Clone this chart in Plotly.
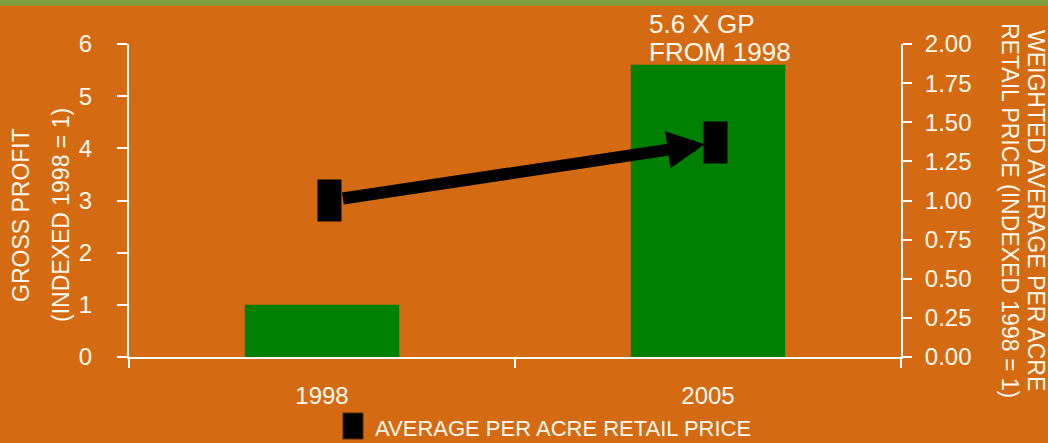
import plotly.graph_objects as go

# ---- data ----
years = ["1998", "2005"]
gross_profit = [1.0, 5.6]          # left axis, indexed 1998 = 1
retail_price = [1.0, 1.37]         # right axis, indexed 1998 = 1
gp_ticks = [0, 1, 2, 3, 4, 5, 6]
price_ticks = [0.0, 0.25, 0.5, 0.75, 1.0, 1.25, 1.5, 1.75, 2.0]
callout_lines = ["5.6 X GP", "FROM 1998"]
left_title = ["GROSS PROFIT", "(INDEXED 1998 = 1)"]
right_title = ["WEIGHTED AVERAGE PER ACRE", "RETAIL PRICE (INDEXED 1998 = 1)"]
legend_label = "AVERAGE PER ACRE RETAIL PRICE"

ORANGE = "#D46B12"
GREEN = "#008000"
OLIVE = "#7F9C3D"
WHITE = "#FFFFFF"
TXT = "#FFF8EE"
FONT = "Liberation Sans, Arial, sans-serif"

W, H = 1048, 443
L, R, T, B = 129, 147, 44, 86
PW, PH = W - L - R, H - T - B


def px(x):
    return (x - L) / PW


def py(y):
    return (H - B - y) / PH


fig = go.Figure()

fig.add_trace(go.Bar(
    x=years, y=gross_profit, width=0.4,
    marker=dict(color=GREEN, line=dict(width=0)),
    xaxis="x", yaxis="y", showlegend=False, hoverinfo="x+y",
))

fig.add_trace(go.Scatter(
    x=years, y=retail_price, mode="markers",
    marker=dict(symbol="line-ns", size=30, color="black",
                line=dict(color="black", width=24)),
    xaxis="x2", yaxis="y2", showlegend=False, name=legend_label,
))

axis_common = dict(showgrid=False, zeroline=False, tickcolor=WHITE, tickwidth=2,
                   tickfont=dict(family=FONT, size=24, color=TXT))

fig.update_layout(
    width=W, height=H,
    margin=dict(l=L, r=R, t=T, b=B, pad=0),
    paper_bgcolor=ORANGE, plot_bgcolor=ORANGE,
    showlegend=False,
    bargap=0.6,
    xaxis=dict(type="category", categoryarray=years, range=[-0.5, 1.5],
               showline=True, linecolor=WHITE, linewidth=2,
               ticks="outside", ticklen=9, tickson="boundaries",
               ticklabelstandoff=16, **axis_common),
    xaxis2=dict(type="category", categoryarray=years, range=[-0.5194, 1.4806],
                overlaying="x", anchor="y2", visible=False),
    xaxis3=dict(type="linear", range=[-0.5, 1.5], tick0=-0.5, dtick=1,
                overlaying="x", anchor="y", side="bottom",
                ticks="inside", ticklen=9, showticklabels=False, showline=False,
                **axis_common),
    yaxis=dict(range=[0, 6], tickvals=gp_ticks, showline=True, linecolor=WHITE,
               linewidth=2, ticks="outside", ticklen=10,
               ticklabelstandoff=20, **axis_common),
    yaxis3=dict(range=[0, 6], tickvals=gp_ticks, overlaying="y", anchor="x",
                side="left", ticks="inside", ticklen=10, showticklabels=False,
                showline=False, **axis_common),
    yaxis2=dict(range=[0, 2], tickvals=price_ticks, tickformat=".2f",
                overlaying="y", side="right", anchor="x",
                showline=True, linecolor=WHITE, linewidth=2,
                ticks="outside", ticklen=9, ticklabelstandoff=8, **axis_common),
    yaxis4=dict(range=[0, 2], tickvals=price_ticks, overlaying="y", side="right",
                anchor="x", ticks="inside", ticklen=9, showticklabels=False,
                showline=False, **axis_common),
)

# arrow between the two price markers
fig.add_annotation(
    xref="x2", yref="y2", axref="x2", ayref="y2",
    x=years.index(years[1]), y=retail_price[1],
    ax=years.index(years[0]), ay=retail_price[0],
    text="", showarrow=True, arrowhead=2, arrowwidth=12, arrowsize=0.62,
    arrowcolor="black", standoff=11, startstandoff=12,
)

# callout text
for line, ypix in zip(callout_lines, [24, 51.5]):
    fig.add_annotation(xref="paper", yref="paper", x=px(647), y=py(ypix),
                       xanchor="left", yanchor="middle", showarrow=False,
                       text=line, font=dict(family=FONT, size=26, color=TXT))

# left axis titles
for line, xpix in zip(left_title, [21, 61]):
    fig.add_annotation(xref="paper", yref="paper", x=px(xpix), y=py(215),
                       xanchor="center", yanchor="middle", textangle=-90,
                       showarrow=False, text=line,
                       font=dict(family=FONT, size=23, color=TXT))

# right axis titles
for line, xpix in zip(right_title, [1036, 1010]):
    fig.add_annotation(xref="paper", yref="paper", x=px(xpix), y=py(210),
                       xanchor="center", yanchor="middle", textangle=90,
                       showarrow=False, text=line,
                       font=dict(family=FONT, size=23, color=TXT))

# legend (swatch + label)
fig.add_shape(type="rect", xref="paper", yref="paper",
              x0=px(343), x1=px(363), y0=py(439), y1=py(413),
              fillcolor="black", line=dict(color="#5A2A00", width=1))
fig.add_annotation(xref="paper", yref="paper", x=px(373), y=py(428),
                   xanchor="left", yanchor="middle", showarrow=False,
                   text=legend_label, font=dict(family=FONT, size=22, color=TXT))

# olive strip along the top edge
fig.add_shape(type="rect", xref="paper", yref="paper",
              x0=px(-5), x1=px(W + 5), y0=py(5.7), y1=py(-2),
              fillcolor=OLIVE, line=dict(width=0), layer="above")

fig.write_html("out.html")
